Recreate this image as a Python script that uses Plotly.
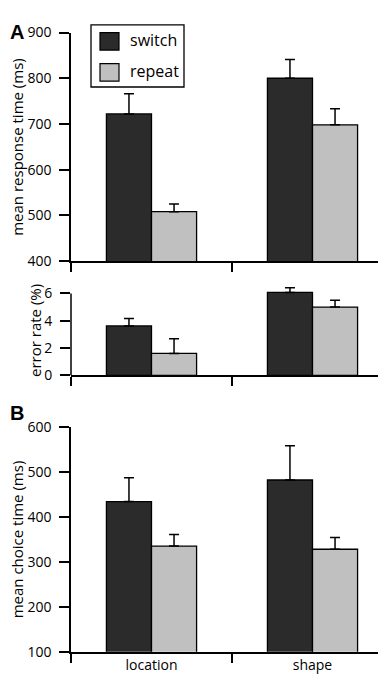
import plotly.graph_objects as go

W, H = 386, 679

# ---- data ----
categories = ["location", "shape"]
series_names = ["switch", "repeat"]
series_colors = ["#2b2b2b", "#c0c0c0"]

rt_switch = [722, 800]
rt_repeat = [508, 698]
rt_switch_err = [44, 41]
rt_repeat_err = [17, 35]

er_switch = [3.62, 6.07]
er_repeat = [1.61, 5.0]
er_switch_err = [0.55, 0.35]
er_repeat_err = [1.07, 0.5]

ct_switch = [434, 482]
ct_repeat = [335, 328]
ct_switch_err = [53, 76]
ct_repeat_err = [26, 26]

rt_ticks = [400, 500, 600, 700, 800, 900]
er_ticks = [0, 2, 4, 6]
ct_ticks = [100, 200, 300, 400, 500, 600]


def px_x(x):
    return x / W


def px_y(y):
    return 1 - y / H


FONT = "Open Sans"
X0, X1 = 63, 385
# error panel: 0..6 spans 367.7 -> 283.3 px; range extended to 6.5 so tall bars are not clipped
ER_TOP_VAL = 6.5
er_bot, er_6 = 367.7, 283.3
er_top_px = er_bot - (er_bot - er_6) * ER_TOP_VAL / 6

panels = [
    # (suffix, values, errors, yrange, yticks, title, y-pixels top/bottom, title x)
    ("", [rt_switch, rt_repeat], [rt_switch_err, rt_repeat_err], [400, 900], rt_ticks,
     "mean response time (ms)", (15, 250), 9),
    ("2", [er_switch, er_repeat], [er_switch_err, er_repeat_err], [0, ER_TOP_VAL], er_ticks,
     "error rate (%)", (er_top_px, er_bot), 27),
    ("3", [ct_switch, ct_repeat], [ct_switch_err, ct_repeat_err], [100, 600], ct_ticks,
     "mean choice time (ms)", (420.7, 652), 9),
]

fig = go.Figure()
layout = {}
annotations = []
shapes = []

for i, (suf, vals, errs, yr, yt, title, (ytop, ybot), tx) in enumerate(panels):
    for name, color, v, e in zip(series_names, series_colors, vals, errs):
        fig.add_trace(go.Bar(
            x=categories, y=v, name=name, showlegend=False,
            marker=dict(color=color, line=dict(color="black", width=1.3)),
            error_y=dict(type="data", array=e, arrayminus=[0] * len(e), symmetric=False,
                         color="black", thickness=1.5, width=5),
            xaxis="x" + suf, yaxis="y" + suf,
        ))
    layout["xaxis" + suf] = dict(
        domain=[px_x(X0), px_x(X1)], anchor="y" + suf, type="category",
        tickson="boundaries", ticks="outside", ticklen=9, tickwidth=1.5, tickcolor="black",
        showline=True, linecolor="black", linewidth=1.5, showgrid=False, zeroline=False,
        showticklabels=(i == 2), tickfont=dict(family=FONT, size=14, color="black"),
        ticklabelstandoff=0, range=[-0.5, 1.5],
    )
    layout["yaxis" + suf] = dict(
        domain=[px_y(ybot), px_y(ytop)], anchor="x" + suf, range=yr, tickvals=yt,
        ticks="outside", ticklen=10, tickwidth=1.5, tickcolor="black",
        showline=(suf != "2"), linecolor="black", linewidth=1.5, showgrid=False, zeroline=False,
        tickfont=dict(family=FONT, size=14, color="black"), ticklabelstandoff=5,
    )
    annotations.append(dict(
        text=title, textangle=-90, xref="paper", yref="paper",
        x=px_x(tx), y=px_y((ytop + ybot) / 2), showarrow=False,
        font=dict(family=FONT, size=15, color="black"), xanchor="center", yanchor="middle",
    ))

# error panel y-axis line drawn only over the ticked range (0..6)
shapes.append(dict(type="line", xref="paper", yref="y2", x0=px_x(X0), x1=px_x(X0),
                   y0=er_ticks[0], y1=er_ticks[-1], line=dict(color="black", width=1.5)))

# panel letters
annotations.append(dict(text="<b>A</b>", xref="paper", yref="paper", x=px_x(0), y=px_y(14),
                        xanchor="left", yanchor="middle", showarrow=False,
                        font=dict(family="Liberation Sans", size=20, color="black")))
annotations.append(dict(text="<b>B</b>", xref="paper", yref="paper", x=px_x(0), y=px_y(406),
                        xanchor="left", yanchor="middle", showarrow=False,
                        font=dict(family="Liberation Sans", size=20, color="black")))

# legend (box + swatches)
shapes.append(dict(type="rect", xref="paper", yref="paper",
                   x0=px_x(83), x1=px_x(176), y0=px_y(71), y1=px_y(7),
                   line=dict(color="black", width=1.3), fillcolor="white"))
for k, (name, color) in enumerate(zip(series_names, series_colors)):
    cy = 24 + k * 32
    shapes.append(dict(type="rect", xref="paper", yref="paper",
                       x0=px_x(92), x1=px_x(111), y0=px_y(cy + 9), y1=px_y(cy - 9),
                       line=dict(color="black", width=1.2), fillcolor=color))
    annotations.append(dict(text=name, xref="paper", yref="paper", x=px_x(120), y=px_y(cy - 1),
                            xanchor="left", yanchor="middle", showarrow=False,
                            font=dict(family=FONT, size=16, color="black")))

fig.update_layout(
    width=W, height=H, margin=dict(l=0, r=0, t=0, b=0),
    paper_bgcolor="white", plot_bgcolor="white",
    barmode="group", bargap=0.44, bargroupgap=0,
    annotations=annotations, shapes=shapes, showlegend=False,
    **layout,
)

fig.write_html("out.html")
